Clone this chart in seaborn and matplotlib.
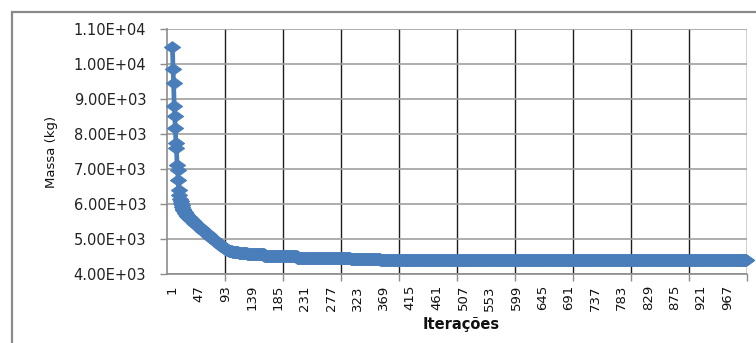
import numpy as np
import pandas as pd
import matplotlib
matplotlib.use("Agg")
import matplotlib.pyplot as plt
from matplotlib.patches import Rectangle
import seaborn as sns

# ---------------------------------------------
# dados
# ---------------------------------------------
# massa nas primeiras 120 iterações (uma por iteração)
massa_inicio = [
    10490, 9860, 9450, 8800, 8510, 8160, 7740, 7590, 7110, 6970, 6690, 6400,
    6250, 6150, 6080, 6020, 5960, 5910, 5870, 5830,
    5800, 5770, 5745, 5720, 5700, 5680, 5660, 5640, 5620, 5605,
    5590, 5575, 5560, 5545, 5530, 5515, 5500, 5485, 5470, 5455,
    5440, 5425, 5412, 5400, 5385, 5370, 5355, 5340, 5325, 5310,
    5295, 5280, 5265, 5250, 5235, 5220, 5205, 5190, 5175, 5160,
    5145, 5130, 5115, 5100, 5087, 5074, 5061, 5048, 5035, 5022,
    5009, 4996, 4983, 4970, 4957, 4944, 4931, 4918, 4905, 4892,
    4879, 4866, 4853, 4840, 4827, 4814, 4800, 4787, 4774, 4761,
    4748, 4735, 4722, 4710, 4700, 4690, 4682, 4675, 4668, 4662,
    4657, 4652, 4648, 4644, 4640, 4637, 4634, 4631, 4628, 4626,
    4624, 4622, 4620, 4618, 4616, 4614, 4612, 4610, 4608, 4606,
]
# patamares depois da iteração 120: nível e número de iterações
patamar_nivel = [4600, 4560, 4515, 4470, 4440, 4405, 4388]
patamar_iters = [10, 30, 57, 93, 52, 228, 410]

y_ticks = [4000, 5000, 6000, 7000, 8000, 9000, 10000, 11000]
x_labels = list(range(1, 1000, 46))     # 1, 47, 93, ... 967

massa = massa_inicio + list(np.repeat(patamar_nivel, patamar_iters))
df = pd.DataFrame({"iter": np.arange(1, len(massa) + 1), "massa": massa})

AZUL = "#4a7ebb"
CINZA = "#8c8c8c"

# ---------------------------------------------
# figura
# ---------------------------------------------
sns.set_style("white")
plt.rcParams["font.family"] = ["DejaVu Sans"]

fig = plt.figure(figsize=(7.56, 3.43), dpi=100)
ax = fig.add_axes([167 / 756, 1 - 274 / 343, 580.3 / 756, 245 / 343])

# moldura externa do gráfico (Excel)
fig.patches.append(Rectangle((12 / 756, -0.2), 1.2, 1.2 - 12 / 343,
                             transform=fig.transFigure, fill=False,
                             edgecolor="#8a8a8a", linewidth=1.6))

losango = [(-1, 0), (0, 0.72), (1, 0), (0, -0.72), (-1, 0)]
sns.lineplot(data=df, x="iter", y="massa", ax=ax, estimator=None,
             color=AZUL, linewidth=3.4, marker=losango, markersize=11.5,
             markerfacecolor=AZUL, markeredgecolor=AZUL, markeredgewidth=0.8,
             clip_on=False, zorder=5)

x0, x1 = -8.5, 1001.5
ax.set_xlim(x0, x1)
ax.set_ylim(4000, 11000)

# rótulos de categoria e linhas de grade a cada 101 categorias
ax.set_xticks(x_labels)
ax.set_xticklabels([str(v) for v in x_labels], rotation=90, fontsize=9.5)
ax.set_xticks([x0 + 101 * k for k in range(1, 11)], minor=True)
ax.tick_params(axis="x", which="major", length=0, pad=8, colors="#111111")
ax.tick_params(axis="x", which="minor", length=5, width=1, color=CINZA,
               direction="out", bottom=True)

ax.set_yticks(y_ticks)
ax.set_yticklabels([f"{v / 10 ** int(np.log10(v)):.2f}E+0{int(np.log10(v))}"
                    for v in y_ticks], fontsize=10.5)
ax.tick_params(axis="y", length=5, width=1, color=CINZA, direction="out",
               left=True, pad=10, colors="#222222")

ax.grid(False)
ax.grid(axis="y", which="major", color="#a0a0a0", linewidth=1.2)
ax.grid(axis="x", which="minor", color="#1e1e1e", linewidth=1.0)

for lado in ["top", "right"]:
    ax.spines[lado].set_visible(False)
ax.spines["left"].set_color(CINZA)
ax.spines["bottom"].set_color(CINZA)
ax.spines["left"].set_linewidth(1.2)
ax.spines["bottom"].set_linewidth(1.2)

ax.set_xlabel("")
ax.set_ylabel("")
fig.text(52 / 756, 1 - 152 / 343, "Massa (kg)", rotation=90,
         ha="center", va="center", fontsize=9.5, color="#111111")
fig.text(461 / 756, 1 - 324 / 343, "Iterações", ha="center", va="center",
         fontsize=10.5, fontweight="bold", color="#111111")

fig.savefig("out.png", dpi=100)
